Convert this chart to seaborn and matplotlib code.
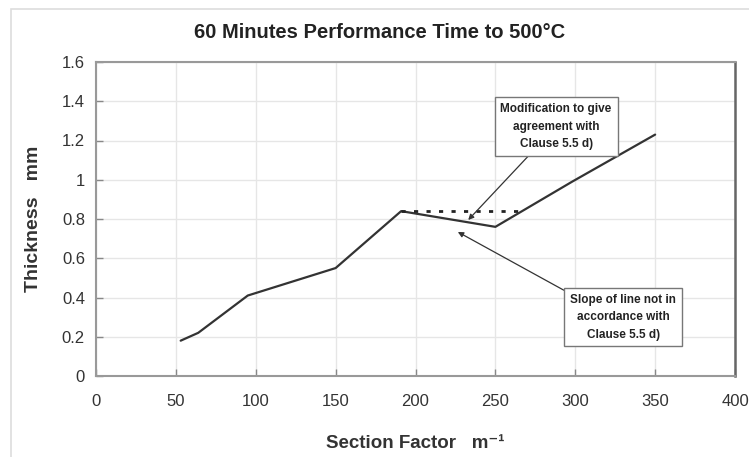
import matplotlib
matplotlib.use("Agg")
import matplotlib.pyplot as plt
import matplotlib.ticker as mticker
from matplotlib.patches import Rectangle
import seaborn as sns
import pandas as pd

# Data
section_factor = [53, 64, 95, 150, 191, 250, 298, 350]
thickness = [0.18, 0.22, 0.41, 0.55, 0.84, 0.76, 0.99, 1.23]
mod_x = [191, 265]
mod_y = [0.84, 0.84]
x_ticks = [0, 50, 100, 150, 200, 250, 300, 350, 400]
y_ticks = [0, 0.2, 0.4, 0.6, 0.8, 1.0, 1.2, 1.4, 1.6]

sns.set_theme(style="white")
plt.rcParams['font.family'] = ['Liberation Sans', 'DejaVu Sans']

fig = plt.figure(figsize=(7.49, 4.57), dpi=100)
ax = fig.add_axes([96/749, 1-376/457, (735-96)/749, (376-62)/457])

# figure border
fig.patches.append(Rectangle((11/749, -0.1), 1.2, 1-9/457+0.1, transform=fig.transFigure,
                             fill=False, edgecolor='#dddddd', linewidth=1.2, zorder=0))

df = pd.DataFrame({"x": section_factor, "y": thickness})
sns.lineplot(data=df, x="x", y="y", ax=ax, color='#333333', linewidth=1.6, sort=False)
dm = pd.DataFrame({"x": mod_x, "y": mod_y})
sns.lineplot(data=dm, x="x", y="y", ax=ax, color='#222222', linewidth=2.0,
             linestyle=(0, (1.5, 3)), sort=False)

ax.set_xlim(0, 400)
ax.set_ylim(0, 1.6)
ax.set_xticks(x_ticks)
ax.set_yticks(y_ticks)
ax.yaxis.set_major_formatter(mticker.FormatStrFormatter('%g'))
ax.grid(True, color='#e6e6e6', linewidth=1.0)
ax.set_axisbelow(True)
ax.tick_params(axis='both', direction='in', length=5, width=1.0, color='#888888',
               labelsize=12, labelcolor='#333333', bottom=True, left=True, pad=8)
ax.tick_params(axis='x', pad=13)
for s in ['left', 'bottom', 'top']:
    ax.spines[s].set_color('#999999')
    ax.spines[s].set_linewidth(1.5)
ax.spines['right'].set_color('#666666')
ax.spines['right'].set_linewidth(1.8)

ax.set_xlabel("Section Factor   m\u207b\u00b9", fontsize=13.5, fontweight='bold',
              color='#333333')
ax.xaxis.set_label_coords(0.5, -(443-376)/314, transform=ax.transAxes)
ax.xaxis.label.set_va('center')
ax.set_ylabel("Thickness   mm", fontsize=14, fontweight='bold', color='#333333', labelpad=14)
fig.text(380/749, 1-33/457, "60 Minutes Performance Time to 500°C", fontsize=14.5,
         fontweight='bold', color='#222222', ha='center', va='center')

box = dict(boxstyle='square,pad=0.5', facecolor='white', edgecolor='#777777', linewidth=1.0)
ax.annotate("Modification to give\nagreement with\nClause 5.5 d)",
            xy=(233, 0.795), xytext=(288, 1.27), textcoords='data',
            ha='center', va='center', fontsize=8.5, fontweight='bold', color='#222222',
            bbox=box, linespacing=1.6,
            arrowprops=dict(arrowstyle='-|>', color='#333333', lw=0.9, mutation_scale=8,
                            shrinkA=0, shrinkB=0, relpos=(0.3, 0)))
ax.annotate("Slope of line not in\naccordance with\nClause 5.5 d)",
            xy=(226.5, 0.734), xytext=(330, 0.3), textcoords='data',
            ha='center', va='center', fontsize=8.5, fontweight='bold', color='#222222',
            bbox=box, linespacing=1.6,
            arrowprops=dict(arrowstyle='-|>', color='#333333', lw=0.9, mutation_scale=8,
                            shrinkA=0, shrinkB=0, relpos=(0, 1)))

fig.savefig("out.png", dpi=100)
